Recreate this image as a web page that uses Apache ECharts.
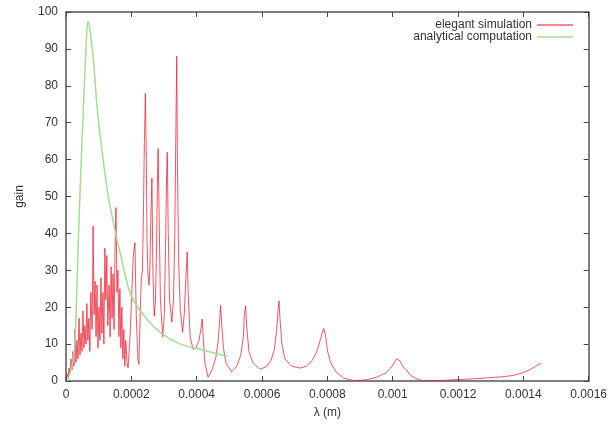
<!DOCTYPE html>
<html>
<head>
<meta charset="utf-8">
<script src="https://cdn.jsdelivr.net/npm/echarts@6/dist/echarts.min.js"></script>
<style>
  html, body { margin: 0; padding: 0; background: #fff; }
  #chart { width: 610px; height: 424px; }
</style>
</head>
<body>
<div id="chart"></div>
<script>
// wavelength (m) and gain
var simLambda = [
  0, 3.1e-6, 6.1e-6, 9.2e-6, 12.2e-6, 15.3e-6, 18.4e-6, 21.4e-6, 24.5e-6, 27.5e-6,
  30.6e-6, 33.6e-6, 36.7e-6, 39.8e-6, 42.8e-6, 45.9e-6, 49e-6, 52e-6, 55e-6, 58e-6,
  61e-6, 64e-6, 67e-6, 70e-6, 73e-6, 76e-6, 80e-6, 83e-6, 86e-6, 89e-6,
  92e-6, 95e-6, 98e-6, 101e-6, 104e-6, 107e-6, 110e-6, 113e-6, 116e-6, 119e-6,
  122e-6, 125e-6, 128e-6, 132e-6, 135e-6, 138e-6, 141e-6, 144e-6, 147e-6, 150e-6,
  153e-6, 156e-6, 159e-6, 162e-6, 165e-6, 168e-6, 171e-6, 174e-6, 177e-6, 180e-6,
  183e-6, 187e-6, 190e-6, 196e-6, 202e-6, 206e-6, 211e-6, 215e-6, 220e-6, 223e-6,
  226e-6, 229e-6, 231e-6, 234e-6, 237e-6, 240e-6, 243e-6, 246e-6, 248e-6, 251e-6,
  254e-6, 257e-6, 260e-6, 263e-6, 266e-6, 270e-6, 274e-6, 277e-6, 280e-6, 282e-6,
  285e-6, 289e-6, 296e-6, 301e-6, 305e-6, 308e-6, 310e-6, 313e-6, 317e-6, 324e-6,
  329e-6, 333e-6, 336e-6, 339e-6, 341e-6, 345e-6, 350e-6, 357e-6, 362e-6, 367e-6,
  371e-6, 374e-6, 380e-6, 389e-6, 398e-6, 407e-6, 413e-6, 417e-6, 420e-6, 425e-6,
  435e-6, 447e-6, 459e-6, 466e-6, 471e-6, 473e-6, 477e-6, 482e-6, 489e-6, 507e-6,
  523e-6, 535e-6, 543e-6, 546e-6, 550e-6, 553e-6, 560e-6, 572e-6, 593e-6, 612e-6,
  627e-6, 638e-6, 645e-6, 649e-6, 652e-6, 655e-6, 661e-6, 670e-6, 691e-6, 716e-6,
  736e-6, 753e-6, 768e-6, 778e-6, 786e-6, 789e-6, 794e-6, 801e-6, 810e-6, 828e-6,
  850e-6, 879e-6, 918e-6, 950e-6, 979e-6, 994e-6, 1005e-6, 1012e-6, 1017e-6, 1022e-6,
  1031e-6, 1042e-6, 1055e-6, 1073e-6, 1092e-6, 1144e-6, 1201e-6, 1251e-6, 1297e-6, 1343e-6,
  1368e-6, 1389e-6, 1401e-6, 1419e-6, 1438e-6, 1454e-6
];
var simGain = [
  0.5, 2, 1, 3.5, 2, 6, 3, 8, 4, 14,
  5, 11, 6, 17, 7, 13, 8, 19, 9, 15,
  10, 21, 11, 17, 8, 24, 14, 42, 18, 27,
  12, 26, 9, 20, 11, 28, 13, 24, 10, 36,
  22, 34, 15, 26, 12, 31, 17, 29, 14, 35,
  47, 24, 30, 12, 25, 9, 20, 6, 14, 4,
  11, 5, 3.5, 12, 25, 34, 37.5, 18, 6, 4.5,
  14, 24, 28, 30, 45, 65, 78, 60, 38, 29,
  26, 31, 45, 55, 30, 17.6, 22, 35, 55, 63,
  45, 22, 12, 18, 38, 56, 62, 40, 22, 16,
  22, 40, 65, 88, 60, 32, 19, 13.2, 18, 28,
  35, 24, 12, 8.6, 9, 11, 14, 16.8, 12, 5,
  1, 3, 6.5, 11, 17, 20.5, 15, 9, 5, 2.5,
  4, 7, 12, 18, 20.4, 15, 8, 5, 3.2, 3.8,
  5.5, 8.5, 14, 19, 21.7, 17, 10, 6, 4, 3.5,
  4, 5.5, 8, 11, 13.5, 14.2, 12.5, 8, 5, 2.3,
  0.8, 0.1, 0.3, 1, 2.2, 3.5, 5, 6, 6.1, 5.5,
  4, 3, 1.5, 0.6, 0.1, 0.1, 0.4, 0.6, 0.9, 1.2,
  1.5, 2, 2.3, 3, 4, 4.8
];
var anaLambda = [
  5e-6, 20e-6, 27.5e-6, 35e-6, 42e-6, 53e-6, 62e-6, 67.3e-6, 75e-6, 85e-6,
  95.8e-6, 115e-6, 131.5e-6, 152e-6, 165e-6, 200e-6, 250e-6, 288e-6, 350e-6, 410e-6,
  480e-6, 495e-6
];
var anaGain = [
  0, 5, 10.5, 30, 49, 73.5, 92, 97.5, 94, 86,
  73.5, 59, 49, 40, 35, 23, 16.5, 13.2, 10, 8.6,
  7, 6.8
];
var xTicks = { min: 0, max: 0.0016, interval: 0.0002 };
var yTicks = { min: 0, max: 100, interval: 10 };

function pairs(xs, ys) {
  var out = [];
  for (var i = 0; i < xs.length; i++) out.push([xs[i], ys[i]]);
  return out;
}

var font = 'Liberation Sans, Arial, sans-serif';
var axisLine = { show: true, onZero: false, lineStyle: { color: '#555', width: 1.5 } };
var tickIn = { show: true, inside: true, length: 5, lineStyle: { color: '#444', width: 1 } };

var chart = echarts.init(document.getElementById('chart'), null, { renderer: 'canvas' });
chart.setOption({
  animation: false,
  backgroundColor: '#fff',
  grid: { left: 66, right: 21, top: 12, bottom: 42, containLabel: false },
  legend: {
    right: 32,
    top: 14,
    orient: 'vertical',
    align: 'right',
    icon: 'rect',
    itemWidth: 36,
    itemHeight: 1.5,
    itemGap: 0,
    textStyle: { fontFamily: font, fontSize: 12, color: '#333' },
    data: ['elegant simulation', 'analytical computation']
  },
  xAxis: [
    {
      type: 'value', min: xTicks.min, max: xTicks.max, interval: xTicks.interval,
      position: 'bottom',
      name: 'λ (m)', nameLocation: 'middle', nameGap: 26,
      nameTextStyle: { fontFamily: font, fontSize: 12, color: '#333' },
      axisLine: axisLine, axisTick: tickIn, splitLine: { show: false },
      axisLabel: { fontFamily: font, fontSize: 12, color: '#333', margin: 8 }
    },
    {
      type: 'value', min: xTicks.min, max: xTicks.max, interval: xTicks.interval,
      position: 'top',
      axisLine: axisLine, axisTick: tickIn, splitLine: { show: false },
      axisLabel: { show: false }
    }
  ],
  yAxis: [
    {
      type: 'value', min: yTicks.min, max: yTicks.max, interval: yTicks.interval,
      position: 'left',
      name: 'gain', nameLocation: 'middle', nameGap: 40, nameRotate: 90,
      nameTextStyle: { fontFamily: font, fontSize: 12, color: '#333' },
      axisLine: axisLine, axisTick: tickIn, splitLine: { show: false },
      axisLabel: { fontFamily: font, fontSize: 12, color: '#333', margin: 8 }
    },
    {
      type: 'value', min: yTicks.min, max: yTicks.max, interval: yTicks.interval,
      position: 'right',
      axisLine: axisLine, axisTick: tickIn, splitLine: { show: false },
      axisLabel: { show: false }
    }
  ],
  series: [
    {
      name: 'elegant simulation',
      type: 'line',
      xAxisIndex: 0, yAxisIndex: 0,
      showSymbol: false, symbol: 'none',
      color: '#f0606e',
      lineStyle: { color: 'rgba(236,30,50,0.75)', width: 1 },
      data: pairs(simLambda, simGain)
    },
    {
      name: 'analytical computation',
      type: 'line',
      xAxisIndex: 0, yAxisIndex: 0,
      showSymbol: false, symbol: 'none',
      smooth: 0.3,
      color: '#a3dc95',
      lineStyle: { color: '#a3dc95', width: 1.5 },
      data: pairs(anaLambda, anaGain)
    }
  ]
});
</script>
</body>
</html>
